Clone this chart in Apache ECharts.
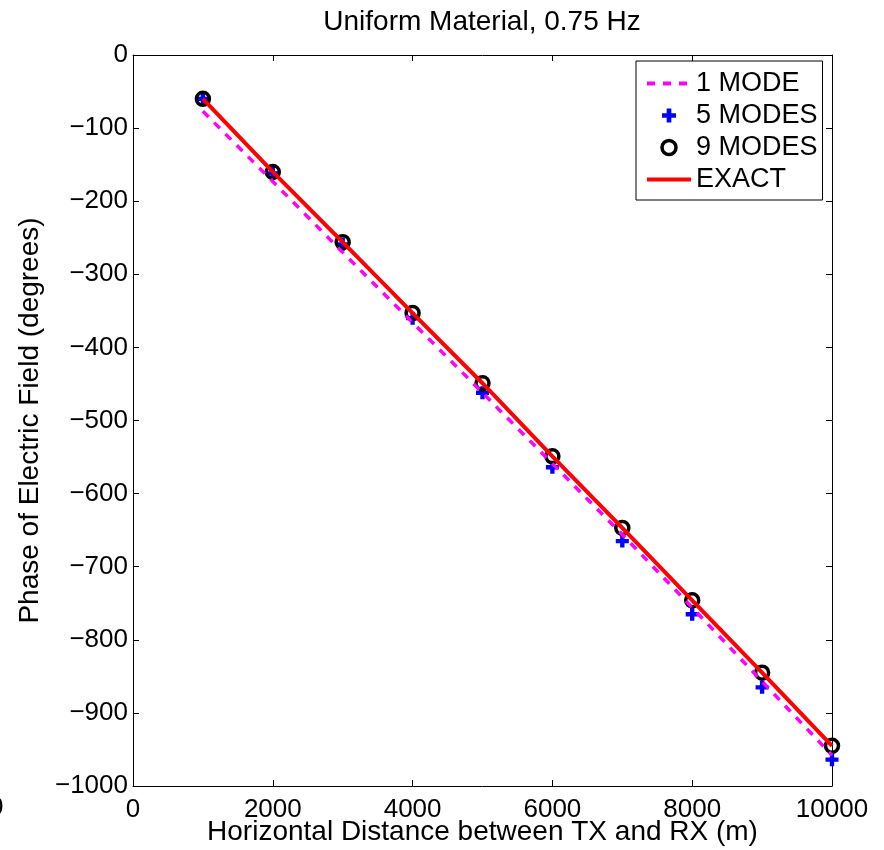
<!DOCTYPE html>
<html>
<head>
<meta charset="utf-8">
<script src="https://cdn.jsdelivr.net/npm/echarts@6/dist/echarts.min.js"></script>
<style>
  html, body { margin: 0; padding: 0; background: #fff; }
  #chart { width: 884px; height: 850px; }
</style>
</head>
<body>
<div id="chart"></div>
<script>
// 数据
const distances = [1000, 2000, 3000, 4000, 5000, 6000, 7000, 8000, 9000, 10000];
const oneMode = [-77, -173, -270, -366, -462, -559, -656, -756, -857, -958];
const fiveModes = [-60, -162, -259, -360, -462, -564, -665, -765, -865, -964];
const nineModes = [-60, -160, -256, -353, -449, -549, -647, -746, -845, -945];
const exact = [-60, -160, -256, -353, -449, -549, -647, -746, -845, -945];

const FONT = 'Liberation Sans, Arial, Helvetica, sans-serif';
const pairs = ys => distances.map((x, i) => [x, ys[i]]);
const minus = v => (v < 0 ? '\u2212' + (-v) : String(v));

const chart = echarts.init(document.getElementById('chart'));

// MATLAB 风格的坐标轴：刻度朝内，不贴零点
function axisStyle() {
    return {
        axisLine: { onZero: false, lineStyle: { color: '#000', width: 1 } },
        axisTick: { show: true, inside: true, length: 6, lineStyle: { color: '#000' } },
        splitLine: { show: false }
    };
}

chart.setOption({
    animation: false,
    backgroundColor: '#fff',
    textStyle: { fontFamily: FONT },
    grid: { left: 133, right: 52, top: 55, bottom: 64, containLabel: false, outerBoundsMode: 'none' },
    graphic: [
        {
            type: 'text', x: 482, y: 22,
            style: { text: 'Uniform Material, 0.75 Hz', font: '28px ' + FONT, fill: '#000', align: 'center', verticalAlign: 'middle' }
        },
        {
            type: 'text', x: -11, y: 808,
            style: { text: '0', font: '26px ' + FONT, fill: '#000', verticalAlign: 'middle' }
        }
    ],
    legend: {
        orient: 'vertical',
        left: 636,
        top: 61,
        padding: [9, 5, 7, 9],
        itemWidth: 44,
        itemHeight: 14,
        itemGap: 5,
        itemTextGap: 5,
        selectedMode: false,
        backgroundColor: '#fff',
        borderColor: '#000',
        borderWidth: 1,
        textStyle: { fontSize: 27, color: '#000', fontFamily: FONT },
        data: [
            { name: '1 MODE', itemStyle: { opacity: 0 }, lineStyle: { width: 4, type: [8, 8] } },
            { name: '5 MODES', itemStyle: { opacity: 1 } },
            { name: '9 MODES', itemStyle: { opacity: 1, borderWidth: 3.5, borderColor: '#000' } },
            { name: 'EXACT', itemStyle: { opacity: 0 }, lineStyle: { width: 4 } }
        ]
    },
    xAxis: [
        Object.assign(axisStyle(), {
            type: 'value', min: 0, max: 10000, interval: 2000, position: 'bottom',
            axisLabel: { fontSize: 26, color: '#000', margin: 11, fontFamily: FONT, formatter: v => String(v) },
            name: 'Horizontal Distance between TX and RX (m)',
            nameLocation: 'middle', nameGap: 32, nameMoveOverlap: false,
            nameTextStyle: { fontSize: 28, color: '#000', fontFamily: FONT }
        }),
        Object.assign(axisStyle(), {
            type: 'value', min: 0, max: 10000, interval: 2000, position: 'top',
            axisLabel: { show: false }
        })
    ],
    yAxis: [
        Object.assign(axisStyle(), {
            type: 'value', min: -1000, max: 0, interval: 100, position: 'left',
            axisLabel: { fontSize: 26, color: '#000', margin: 5, fontFamily: FONT, formatter: minus },
            name: 'Phase of Electric Field (degrees)',
            nameLocation: 'middle', nameGap: 89, nameMoveOverlap: false,
            nameTextStyle: { fontSize: 28, color: '#000', fontFamily: FONT }
        }),
        Object.assign(axisStyle(), {
            type: 'value', min: -1000, max: 0, interval: 100, position: 'right',
            axisLabel: { show: false }
        })
    ],
    series: [
        {
            name: '1 MODE', type: 'line', data: pairs(oneMode),
            symbol: 'none',
            lineStyle: { color: '#ff00ff', width: 3.5, type: [8, 8] },
            itemStyle: { color: '#ff00ff' }
        },
        {
            name: '5 MODES', type: 'scatter', data: pairs(fiveModes),
            symbol: 'path://M3,0H6V3H9V6H6V9H3V6H0V3H3Z',
            symbolSize: 13, symbolKeepAspect: true,
            itemStyle: { color: '#0000ff', opacity: 1 }
        },
        {
            name: '9 MODES', type: 'scatter', data: pairs(nineModes),
            symbol: 'circle', symbolSize: 13, symbolKeepAspect: true,
            itemStyle: { color: 'rgba(0,0,0,0)', borderColor: '#000', borderWidth: 3.5, opacity: 1 }
        },
        {
            name: 'EXACT', type: 'line', data: pairs(exact),
            symbol: 'none',
            lineStyle: { color: '#ff0000', width: 4 },
            itemStyle: { color: '#ff0000' }
        }
    ]
});
</script>
</body>
</html>
